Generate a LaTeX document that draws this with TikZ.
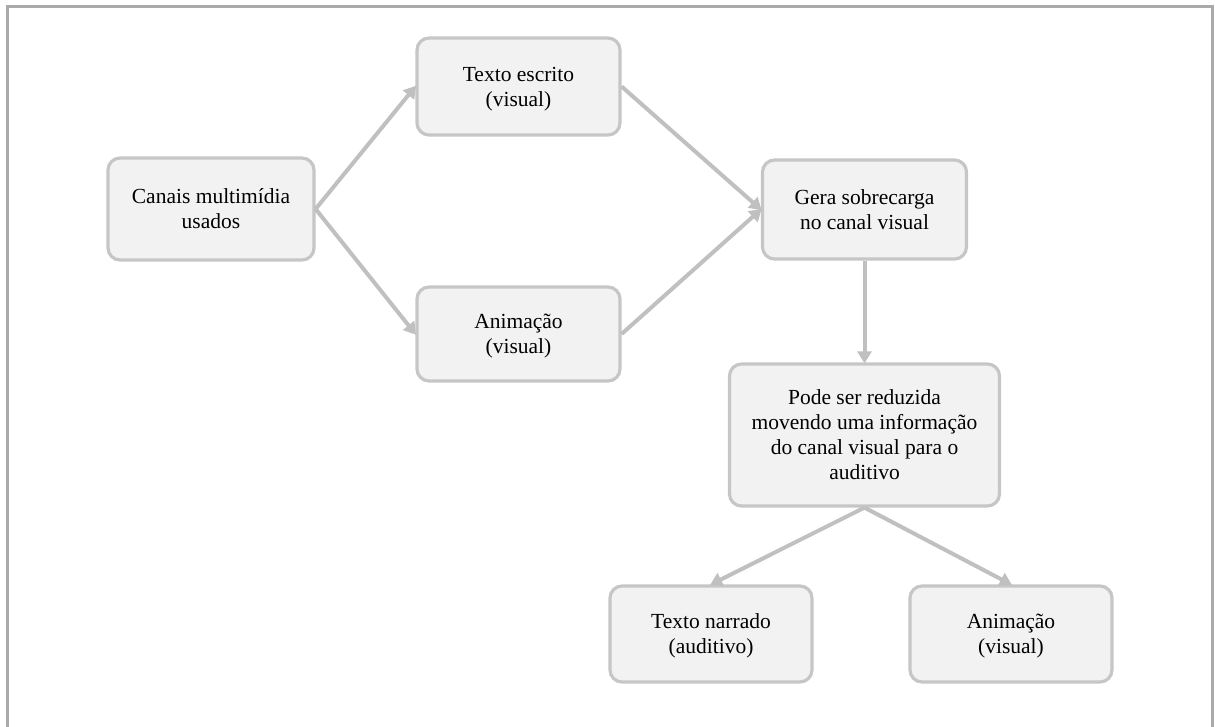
\documentclass[tikz,border=0pt]{standalone}
\usepackage{fontspec}
\setmainfont{Liberation Serif}
\usetikzlibrary{arrows.meta}
\definecolor{edgec}{HTML}{C0C0C0}
\definecolor{boxc}{HTML}{C6C6C6}
\definecolor{fillc}{HTML}{F2F2F2}
\definecolor{framec}{HTML}{AAAAAA}
\tikzset{
  box/.style={draw=boxc, line width=3.2pt, fill=fillc, rounded corners=12pt, align=center,
    font=\fontsize{21.5}{25}\selectfont, inner sep=0pt, text depth=0pt},
  conn/.style={draw=edgec, line width=4pt, -{Triangle[length=12pt,width=14pt]}, shorten >=-1pt}
}
\begin{document}
\begin{tikzpicture}[x=1pt,y=-1pt]
\useasboundingbox (0,0) rectangle (1215,727);
\draw[framec, line width=3pt] (7.5,727) -- (7.5,6.5) -- (1212.5,6.5) -- (1212.5,727);
\node[box, minimum width=206pt, minimum height=102pt] (canais) at (211,209) {Canais multimídia\\usados};
\node[box, minimum width=203pt, minimum height=97pt] (texto) at (518.5,86.5) {Texto escrito\\(visual)};
\node[box, minimum width=203pt, minimum height=94pt] (anim1) at (518.5,334) {Animação\\(visual)};
\node[box, minimum width=204pt, minimum height=99pt] (gera) at (864.5,209.5) {Gera sobrecarga\\no canal visual};
\node[box, minimum width=270pt, minimum height=142pt] (pode) at (864.5,435) {Pode ser reduzida\\movendo uma informação\\do canal visual para o\\auditivo};
\node[box, minimum width=202pt, minimum height=96pt] (narr) at (711,634) {Texto narrado\\(auditivo)};
\node[box, minimum width=202pt, minimum height=96pt] (anim2) at (1011,634) {Animação\\(visual)};
\draw[conn] (canais.east) -- (texto.west);
\draw[conn] (canais.east) -- (anim1.west);
\draw[conn] (texto.east) -- (gera.west);
\draw[conn] (anim1.east) -- (gera.west);
\draw[conn] (gera.south) -- (pode.north);
\draw[conn] (pode.south) -- (narr.north);
\draw[conn] (pode.south) -- (anim2.north);
\end{tikzpicture}
\end{document}
